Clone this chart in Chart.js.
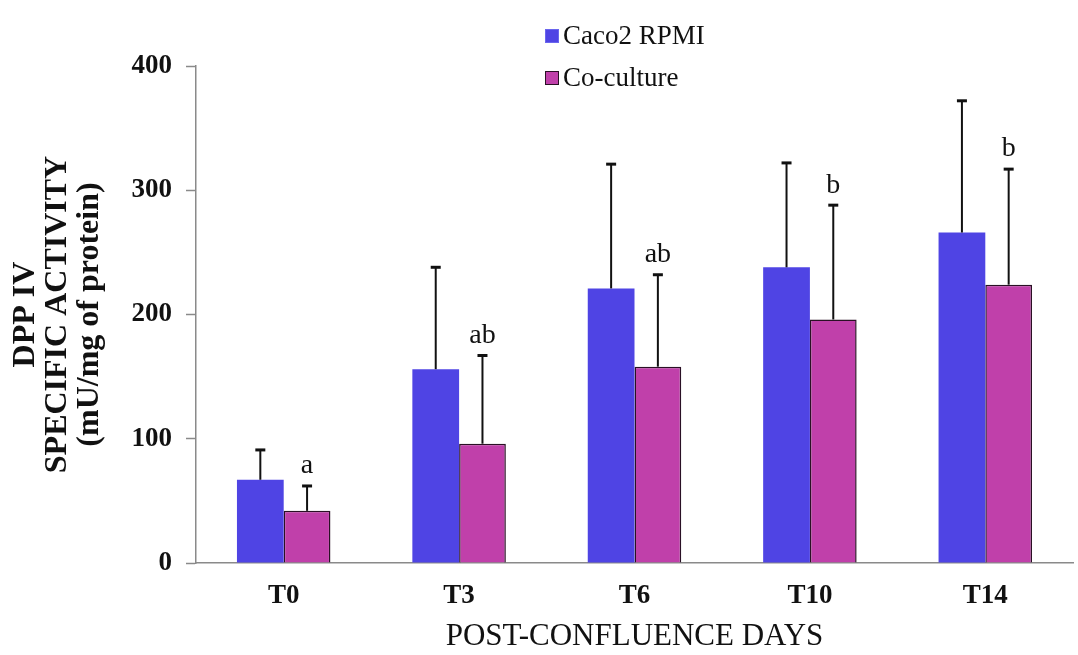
<!DOCTYPE html>
<html>
<head>
<meta charset="utf-8">
<script src="https://cdn.jsdelivr.net/npm/chart.js@4.4.1/dist/chart.umd.min.js"></script>
<style>
  html, body { margin: 0; padding: 0; background: #fff; }
  #wrap { width: 1078px; height: 655px; position: relative; }
</style>
</head>
<body>
<div id="wrap"><canvas id="chart"></canvas></div>
<script>
// ── DPP IV specific activity, Caco2 vs co-culture ──
const days = ['T0', 'T3', 'T6', 'T10', 'T14'];
const caco2Values = [67, 156, 221, 238, 266];
const caco2Errors = [24, 82, 100, 84, 106];
const cocultureValues = [42, 96, 158, 196, 224];
const cocultureErrors = [20, 71, 74, 92, 93];
const sigLetters = ['a', 'ab', 'ab', 'b', 'b'];
const yTicks = [0, 100, 200, 300, 400];

const SERIF = '"Liberation Serif", "Times New Roman", serif';
const BLUE = '#4f44e4';
const PURPLE = '#c040aa';

// upward-only error bars with a cap, plus letters over the co-culture bars
const errorBars = {
  id: 'errorBars',
  afterDatasetsDraw(chart) {
    const ctx = chart.ctx;
    const y = chart.scales.y;
    const errs = [caco2Errors, cocultureErrors];
    ctx.save();
    ctx.strokeStyle = '#111';
    chart.data.datasets.forEach((ds, di) => {
      const meta = chart.getDatasetMeta(di);
      meta.data.forEach((bar, i) => {
        const top = y.getPixelForValue(ds.data[i] + errs[di][i]);
        ctx.lineWidth = 2;
        ctx.beginPath();
        ctx.moveTo(bar.x, bar.y);
        ctx.lineTo(bar.x, top);
        ctx.stroke();
        ctx.lineWidth = 3;
        ctx.beginPath();
        ctx.moveTo(bar.x - 5, top);
        ctx.lineTo(bar.x + 5, top);
        ctx.stroke();
        if (di === 1) {
          ctx.fillStyle = '#111';
          ctx.font = '28px ' + SERIF;
          ctx.textAlign = 'center';
          ctx.textBaseline = 'bottom';
          ctx.fillText(sigLetters[i], bar.x, top - 6);
        }
      });
    });
    ctx.restore();
  }
};

// stacked legend above the plot
const stackedLegend = {
  id: 'stackedLegend',
  afterDraw(chart) {
    const ctx = chart.ctx;
    ctx.save();
    ctx.font = '27px ' + SERIF;
    ctx.textBaseline = 'middle';
    ctx.textAlign = 'left';
    chart.data.datasets.forEach((ds, i) => {
      const cy = 36 + i * 42;
      ctx.fillStyle = ds.backgroundColor;
      ctx.fillRect(545, cy - 7, 14, 14);
      ctx.strokeStyle = i === 1 ? '#2a1025' : '#6a66ee';
      ctx.lineWidth = 1;
      ctx.strokeRect(545.5, cy - 6.5, 13, 13);
      ctx.fillStyle = '#111';
      ctx.fillText(ds.label, 563, cy + 1);
    });
    ctx.restore();
  }
};

new Chart(document.getElementById('chart'), {
  type: 'bar',
  data: {
    labels: days,
    datasets: [
      {
        label: 'Caco2 RPMI',
        data: caco2Values,
        backgroundColor: BLUE,
        borderWidth: 0,
        categoryPercentage: 0.533,
        barPercentage: 1.0,
      },
      {
        label: 'Co-culture',
        data: cocultureValues,
        backgroundColor: PURPLE,
        borderColor: '#2a1025',
        borderWidth: 1.5,
        categoryPercentage: 0.533,
        barPercentage: 1.0,
      },
    ],
  },
  options: {
    responsive: true,
    maintainAspectRatio: false,
    animation: false,
    layout: { padding: { top: 66, right: 5, bottom: 0, left: 0 } },
    plugins: {
      legend: { display: false },
      tooltip: { enabled: false },
    },
    scales: {
      x: {
        grid: { display: true, drawOnChartArea: false, drawTicks: false },
        border: { display: true, color: '#8a8a8a', width: 1.5 },
        ticks: { color: '#111', padding: 17, font: { family: SERIF, size: 27, weight: 'bold' } },
        title: {
          display: true,
          text: 'POST-CONFLUENCE DAYS',
          color: '#111',
          font: { family: SERIF, size: 31 },
          padding: { top: 8, bottom: 0 },
        },
        afterFit: s => { s.height = 92; },
      },
      y: {
        min: 0,
        max: 400,
        afterBuildTicks: s => { s.ticks = yTicks.map(v => ({ value: v })); },
        grid: { display: true, drawOnChartArea: false, tickLength: 10, color: '#8a8a8a', tickWidth: 1.5 },
        border: { display: true, color: '#8a8a8a', width: 1.5 },
        ticks: { color: '#111', padding: 14, font: { family: SERIF, size: 27, weight: 'bold' } },
        title: {
          display: true,
          text: ['DPP IV', 'SPECIFIC ACTIVITY', '(mU/mg of protein)'],
          color: '#111',
          font: { family: SERIF, size: 32, weight: 'bold', lineHeight: 1.0 },
          padding: { top: 10, bottom: 0 },
        },
        afterFit: s => { s.width = 196; },
      },
    },
  },
  plugins: [errorBars, stackedLegend],
});
</script>
</body>
</html>
